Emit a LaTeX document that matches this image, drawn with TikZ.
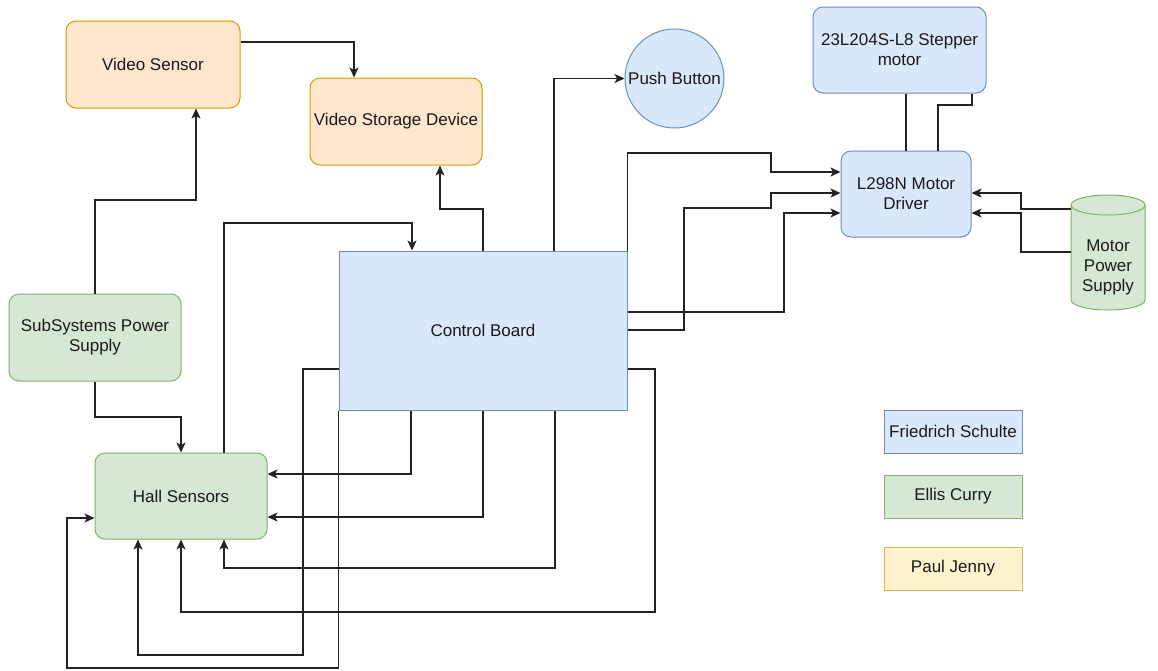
\documentclass[tikz,border=0pt]{standalone}
\usepackage{fontspec}
\newfontfamily\lblfont{Liberation Sans}
\usetikzlibrary{arrows.meta}
\definecolor{bfill}{HTML}{DAE8FC}
\definecolor{bdraw}{HTML}{6C8EBF}
\definecolor{gfill}{HTML}{D5E8D4}
\definecolor{gdraw}{HTML}{82B366}
\definecolor{ofill}{HTML}{FFE6CC}
\definecolor{odraw}{HTML}{D79B00}
\definecolor{yfill}{HTML}{FFF2CC}
\definecolor{ydraw}{HTML}{D6B656}
\definecolor{linec}{HTML}{222222}
\definecolor{txtc}{HTML}{1A1A1A}
\tikzset{
  wire/.style={draw=linec, line width=1.4pt},
  arr/.style={wire, -{Stealth[length=10pt,width=9pt,inset=2.5pt]}},
  lbl/.style={font=\lblfont\fontsize{17}{20}\selectfont, text=txtc, align=center, inner sep=2pt},
  rbox/.style={lbl, rounded corners=10pt, line width=1pt},
  sbox/.style={lbl, line width=1pt},
  bluebox/.style={fill=bfill, draw=bdraw},
  greenbox/.style={fill=gfill, draw=gdraw},
  orangebox/.style={fill=ofill, draw=odraw},
  yellowbox/.style={fill=yfill, draw=ydraw},
}
\begin{document}
\begin{tikzpicture}[x=1pt, y=-1pt]
\useasboundingbox[fill=white] (0,0) rectangle (1158,670);

% nodes
\node[rbox, orangebox, minimum width=174pt, minimum height=87pt] (vs) at (153,64.5) {Video Sensor};
\node[rbox, orangebox, minimum width=172pt, minimum height=87pt] (vsd) at (396,121.5) {Video Storage Device};
\node[lbl, circle, bluebox, line width=1pt, minimum size=99pt, inner sep=0pt] (pb) at (674.5,78.5) {Push Button};
\node[rbox, bluebox, minimum width=173pt, minimum height=86pt] (stp) at (899.5,50) {23L204S-L8 Stepper\\motor};
\node[rbox, bluebox, minimum width=130pt, minimum height=86pt] (drv) at (906,194) {L298N Motor\\Driver};
\node[rbox, greenbox, minimum width=172pt, minimum height=87pt] (ssp) at (95,337.5) {SubSystems Power\\Supply};
\node[sbox, bluebox, minimum width=288pt, minimum height=159pt] (cb) at (483,330.5) {Control Board};
\node[rbox, greenbox, minimum width=172pt, minimum height=86pt] (hs) at (181,496) {Hall Sensors};

% cylinder
\path[fill=gfill, draw=gdraw, line width=1pt] (1071,205) -- (1071,300)
  arc[start angle=180, end angle=360, x radius=37pt, y radius=10pt] -- (1145,205)
  arc[start angle=0, end angle=180, x radius=37pt, y radius=10pt] -- cycle;
\draw[gdraw, line width=1pt] (1071,205) arc[start angle=180, end angle=360, x radius=37pt, y radius=10pt];
\node[minimum width=74pt, minimum height=115pt, inner sep=0pt] (mps) at (1108,252.5) {};
\node[lbl] (mpst) at (1108,267) {Motor\\Power\\Supply};

% legend
\node[sbox, bluebox, minimum width=138pt, minimum height=43pt] (leg1) at (953,431.5) {Friedrich Schulte};
\node[sbox, greenbox, minimum width=138pt, minimum height=43pt] (leg2) at (953,496.5) {Ellis Curry};
\node[sbox, yellowbox, minimum width=138pt, minimum height=43pt] (leg3) at (953,568.5) {Paul Jenny};

% connectors
\draw[arr] (vs.east |- 0,42) -| (vsd.north -| 354,0);
\draw[arr] (ssp.north) |- (196,200) -- (vs.south -| 196,0);
\draw[arr] (ssp.south) |- (181,417) -- (hs.north);
\draw[arr] (hs.north -| 224,0) |- (412,223) -- (cb.north -| 412,0);
\draw[arr] (cb.north) |- (440,209) -- (vsd.south -| 440,0);
\draw[arr] (cb.north -| 554,0) |- (pb.west);

\draw[wire] (stp.south -| 906,0) -- (drv.north);
\draw[wire] (stp.south -| 972,0) |- (938,105) -- (drv.north -| 938,0);

\draw[arr] (cb.north east) |- (771,153) |- (drv.west |- 0,172);
\draw[arr] (cb.east |- 0,330) -| (684,208) -| (771,193) -- (drv.west |- 0,193);
\draw[arr] (cb.east |- 0,312) -| (784,213) -- (drv.west |- 0,213);

\draw[arr] (mps.west |- 0,209) -| (1021,193) -- (drv.east |- 0,193);
\draw[arr] (mps.west |- 0,252) -| (1021,213) -- (drv.east |- 0,213);

\draw[arr] (cb.south -| 411,0) |- (hs.east |- 0,474);
\draw[arr] (cb.south) |- (hs.east |- 0,517);
\draw[arr] (cb.south -| 555,0) |- (224,568) -- (hs.south -| 224,0);
\draw[arr] (cb.east |- 0,369) -| (655,612) -| (hs.south);
\draw[arr] (cb.west |- 0,369) -| (303,655) -| (hs.south -| 138,0);
\draw[arr] (cb.south west) |- (67,668) |- (hs.west |- 0,518);
\end{tikzpicture}
\end{document}
